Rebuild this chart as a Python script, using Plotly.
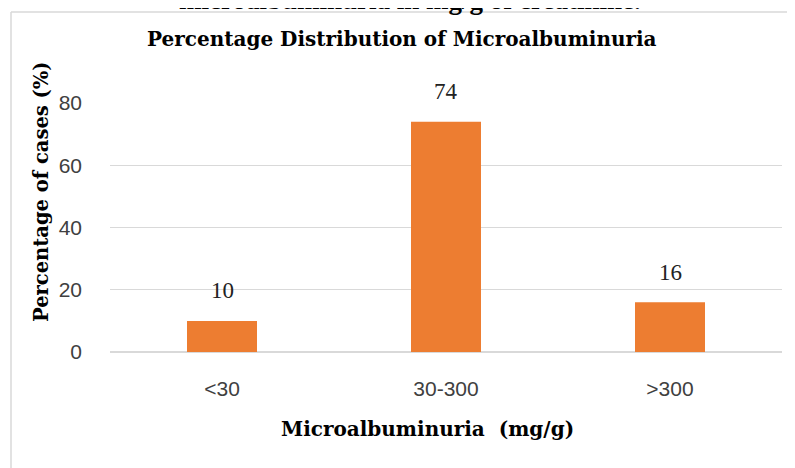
import plotly.graph_objects as go

categories = ["<30", "30-300", ">300"]
values = [10, 74, 16]
y_ticks = [0, 20, 40, 60, 80]

OFF = 8  # page body margin
W, H = 787, 460
L, R, T, B = 102, 13, 95, 116
pw, ph = W - L - R, H - T - B

def px(x):  # page pixel -> paper
    return (x - OFF - L) / pw

def py(y):
    return (H - B - (y - OFF)) / ph

serif_b = "DejaVu Serif"
tick_font = "Liberation Sans, Arial, sans-serif"

fig = go.Figure()
fig.add_trace(go.Bar(
    x=categories, y=values,
    marker=dict(color="#ED7D31", line=dict(width=0)),
    width=0.3125,
    hoverinfo="skip",
))

for c, v in zip(categories, values):
    fig.add_annotation(x=c, y=v, xref="x", yref="y", text=str(v), showarrow=False,
                       yanchor="middle", yshift=30,
                       font=dict(family="Liberation Serif, serif", size=23, color="#222"))

fig.add_annotation(x=px(402), y=py(39), xref="paper", yref="paper",
                   text="<b>Percentage Distribution of Microalbuminuria</b>", showarrow=False,
                   xanchor="center", yanchor="middle",
                   font=dict(family=serif_b, size=20, color="#000"))
fig.add_annotation(x=px(410), y=py(0), xref="paper", yref="paper",
                   text="<b>microalbuminuria in mg/g of creatinine.</b>", showarrow=False,
                   xanchor="center", yanchor="middle",
                   font=dict(family="Liberation Serif, serif", size=27, color="#000"))
fig.add_annotation(x=px(41), y=py(192), xref="paper", yref="paper",
                   text="<b>Percentage of cases (%)</b>", showarrow=False, textangle=-90,
                   xanchor="center", yanchor="middle",
                   font=dict(family=serif_b, size=19.5, color="#000"))
fig.add_annotation(x=px(427), y=py(429), xref="paper", yref="paper",
                   text="<b>Microalbuminuria  (mg/g)</b>", showarrow=False,
                   xanchor="center", yanchor="middle",
                   font=dict(family=serif_b, size=20, color="#000"))

fig.add_shape(type="line", xref="paper", yref="paper", x0=px(11), x1=px(11), y0=py(12), y1=py(480),
              line=dict(color="#d9d9d9", width=1.5))
fig.add_shape(type="line", xref="paper", yref="paper", x0=px(11), x1=px(810), y0=py(12), y1=py(12),
              line=dict(color="#d9d9d9", width=1.5))

fig.update_layout(
    width=W, height=H,
    margin=dict(l=L, r=R, t=T, b=B, pad=0),
    paper_bgcolor="white", plot_bgcolor="white",
    showlegend=False,
    xaxis=dict(showgrid=False, showline=False, ticks="", zeroline=False,
               tickfont=dict(family=tick_font, size=21, color="#404040"),
               ticklabelstandoff=22),
    yaxis=dict(range=[0, 80], tickvals=y_ticks, showgrid=True, gridcolor="#d9d9d9", gridwidth=1,
               zeroline=True, zerolinecolor="#d9d9d9", zerolinewidth=1.5,
               showline=False, ticks="",
               tickfont=dict(family=tick_font, size=21, color="#404040"),
               ticklabelstandoff=27),
)

fig.write_html("out.html")
